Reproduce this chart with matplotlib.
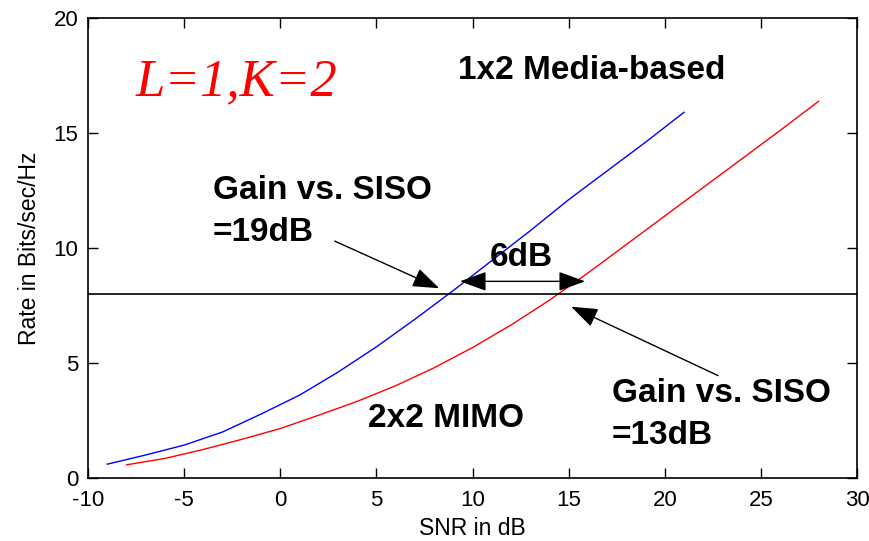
import matplotlib
matplotlib.use('Agg')
import matplotlib.pyplot as plt

# SNR (dB) and rate (bits/sec/Hz)
snr_media = [-9, -7, -5, -3, -1, 1, 3, 5, 7, 9, 11, 13, 15, 17, 19, 21]
rate_media = [0.6, 1.0, 1.43, 2.0, 2.78, 3.6, 4.6, 5.7, 6.9, 8.15, 9.45, 10.75, 12.1, 13.35, 14.6, 15.9]

snr_mimo = [-8, -6, -4, -2, 0, 2, 4, 6, 8, 10, 12, 14, 16, 18, 20, 22, 24, 26, 28]
rate_mimo = [0.57, 0.85, 1.24, 1.68, 2.15, 2.73, 3.33, 4.01, 4.79, 5.67, 6.65, 7.73, 8.91, 10.15, 11.39, 12.63, 13.87, 15.11, 16.38]

target_rate = 8
x_ticks = [-10, -5, 0, 5, 10, 15, 20, 25, 30]
y_ticks = [0, 5, 10, 15, 20]

plt.rcParams['font.family'] = ['Liberation Sans', 'DejaVu Sans']
plt.rcParams['axes.unicode_minus'] = False

fig = plt.figure(figsize=(8.69, 5.41), dpi=100)
ax = fig.add_axes([0.1013, 0.1165, 0.8849, 0.8502])

ax.plot(snr_media, rate_media, color='blue', lw=1)
ax.plot(snr_mimo, rate_mimo, color='red', lw=1)
ax.axhline(target_rate, color='black', lw=1.2)

ax.set_xlim(-10, 30)
ax.set_ylim(0, 20)
ax.set_xticks(x_ticks)
ax.set_yticks(y_ticks)
ax.tick_params(direction='in', length=7, width=1, top=True, right=True,
               labelsize=16)
ax.tick_params(axis='x', pad=9)
ax.tick_params(axis='y', pad=7)
for s in ax.spines.values():
    s.set_linewidth(1.2)
ax.set_xlabel('SNR in dB', fontsize=16.5, labelpad=4)
ax.set_ylabel('Rate in Bits/sec/Hz', fontsize=16.5, labelpad=9)

# annotations
ax.text(-7.5, 17.2, 'L=1,K=2', color='red', fontsize=38, style='italic',
        family=['Liberation Serif', 'DejaVu Serif'], va='center')
ax.text(9.25, 17.7, '1x2 Media-based', fontsize=24, fontweight='bold', va='center')
ax.text(-3.5, 11.6, 'Gain vs. SISO\n=19dB', fontsize=24, fontweight='bold',
        va='center', linespacing=1.45)
ax.text(10.9, 9.6, '6dB', fontsize=24, fontweight='bold', va='center')
ax.text(17.25, 2.75, 'Gain vs. SISO\n=13dB', fontsize=24, fontweight='bold',
        va='center', linespacing=1.45)
ax.text(4.56, 2.6, '2x2 MIMO', fontsize=24, fontweight='bold', va='center')

head = dict(color='black', lw=1, mutation_scale=15)
style = 'head_length=1.1,head_width=0.4'
ax.annotate('', xy=(8.4, 8.2), xytext=(2.7, 10.35),
            arrowprops=dict(arrowstyle='-|>,' + style, **head))
ax.annotate('', xy=(15.0, 7.5), xytext=(22.9, 4.4),
            arrowprops=dict(arrowstyle='-|>,' + style, **head))
ax.annotate('', xy=(9.2, 8.55), xytext=(16.0, 8.55),
            arrowprops=dict(arrowstyle='<|-|>,' + style, **head))

fig.savefig('out.png', dpi=100)
